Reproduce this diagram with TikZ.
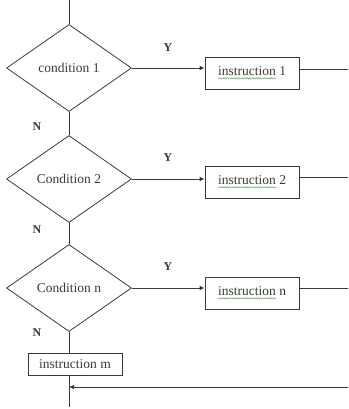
\documentclass[tikz,border=0pt]{standalone}
\usepackage{fontspec}
\setmainfont{Liberation Serif}
\usetikzlibrary{shapes.geometric,arrows.meta,decorations.pathmorphing}

\definecolor{ink}{HTML}{3A3A3A}
\definecolor{spell}{HTML}{7DB07D}

% green wavy underline, as a spell checker marks a word
\newcommand\spellmark[1]{\tikz[baseline=(w.base)]{%
  \node[rectangle, draw=none, inner sep=0pt, outer sep=0pt,
    minimum width=0pt, minimum height=0pt] (w) {#1};
  \draw[spell, line width=0.6pt, decorate,
    decoration={snake, amplitude=0.6pt, segment length=2.2pt}]
    ([yshift=-2.6pt]w.base west) -- ([yshift=-2.6pt]w.base east);}}

\begin{document}
\begin{tikzpicture}[x=1pt,y=-1pt,
  every node/.style={font=\fontsize{13.5}{15}\selectfont, text=ink},
  line/.style={draw=ink, line width=0.8pt},
  arr/.style={line, -{Latex[length=5pt,width=4.5pt]}},
  cond/.style={diamond, draw=ink, line width=0.8pt, minimum width=125pt,
    minimum height=87pt, inner sep=0pt, aspect=1.4},
  instr/.style={rectangle, draw=ink, line width=0.8pt, minimum width=94pt,
    minimum height=32pt, inner sep=0pt},
  lab/.style={font=\fontsize{12}{14}\bfseries, text=ink}]

\useasboundingbox (0,0) rectangle (348,409);

% decisions
\node[cond] (c1) at (69,68)  {condition 1};
\node[cond] (c2) at (69,179) {Condition 2};
\node[cond] (c3) at (69,288) {Condition n};

% actions
\node[instr] (b1) at (252,73)  {\spellmark{instruction} 1};
\node[instr] (b2) at (252,182) {\spellmark{instruction} 2};
\node[instr] (b3) at (252,293) {\spellmark{instruction} n};
\node[instr, minimum height=22pt] (bm) at (75,364) {instruction m};

% entry and exit
\coordinate (top) at (69,0);
\coordinate (bot) at (69,407);
\draw[line] (top) -- (c1.north);
\draw[line] (bm.south -| bot) -- (bot);

% "no" branches
\draw[line] (c1.south) -- (c2.north);
\draw[line] (c2.south) -- (c3.north);
\draw[line] (c3.south) -- (c3.south |- bm.north);

% "yes" branches
\draw[arr] (c1.east) -- (c1.east -| b1.west);
\draw[arr] (c2.east) -- (c2.east -| b2.west);
\draw[arr] (c3.east) -- (c3.east -| b3.west);

% outgoing lines to the right margin
\coordinate (o1) at (348,69);
\coordinate (o2) at (348,177);
\coordinate (o3) at (348,288);
\draw[line] (o1 -| b1.east) -- (o1);
\draw[line] (o2 -| b2.east) -- (o2);
\draw[line] (o3 -| b3.east) -- (o3);

% return path
\coordinate (ret) at (348,387);
\draw[arr] (ret) -- (ret -| bot);

% branch labels
\node[lab] (y1) at (168,48)  {Y};
\node[lab] (y2) at (168,158) {Y};
\node[lab] (y3) at (168,267) {Y};
\node[lab] (n1) at (37,127) {N};
\node[lab] (n2) at (37,230) {N};
\node[lab] (n3) at (37,333) {N};
\end{tikzpicture}
\end{document}
